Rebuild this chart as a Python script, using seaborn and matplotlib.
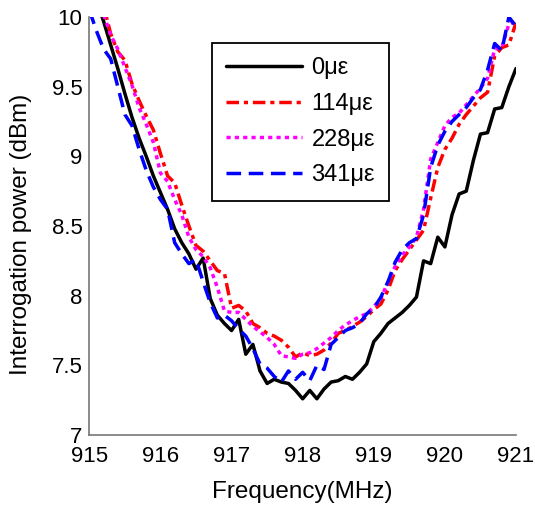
import numpy as np
import pandas as pd
import matplotlib
matplotlib.use("Agg")
import matplotlib.pyplot as plt
import seaborn as sns
from matplotlib.ticker import FuncFormatter

freq = [round(915.0 + 0.1 * i, 1) for i in range(61)]

strain_labels = ["0\u03bc\u03b5", "114\u03bc\u03b5", "228\u03bc\u03b5", "341\u03bc\u03b5"]

p0 = [10.35, 10.12, 9.97, 9.80, 9.63, 9.45, 9.28, 9.13, 9.00, 8.86,
      8.74, 8.62, 8.48, 8.38, 8.30, 8.19, 8.27, 7.98, 7.86, 7.80,
      7.75, 7.83, 7.58, 7.65, 7.46, 7.37, 7.40, 7.38, 7.37, 7.32,
      7.26, 7.32, 7.26, 7.33, 7.38, 7.39, 7.42, 7.40, 7.45, 7.51,
      7.67, 7.73, 7.80, 7.84, 7.88, 7.93, 7.99, 8.25, 8.23, 8.42,
      8.35, 8.58, 8.73, 8.75, 8.97, 9.16, 9.17, 9.34, 9.35, 9.50,
      9.63]
p114 = [10.55, 10.30, 10.08, 9.88, 9.75, 9.69, 9.52, 9.40, 9.29, 9.19,
        9.02, 8.86, 8.81, 8.65, 8.50, 8.36, 8.32, 8.25, 8.18, 8.16,
        7.91, 7.93, 7.89, 7.80, 7.77, 7.73, 7.71, 7.68, 7.63, 7.56,
        7.59, 7.57, 7.58, 7.61, 7.66, 7.73, 7.75, 7.78, 7.81, 7.85,
        7.90, 7.94, 8.04, 8.18, 8.26, 8.33, 8.40, 8.47, 8.70, 8.92,
        9.05, 9.13, 9.23, 9.30, 9.36, 9.42, 9.46, 9.72, 9.78, 9.80,
        9.96]
p228 = [10.45, 10.20, 10.02, 9.87, 9.77, 9.64, 9.51, 9.35, 9.23, 9.10,
        8.88, 8.82, 8.69, 8.58, 8.42, 8.33, 8.28, 8.20, 8.06, 7.89,
        7.88, 7.88, 7.83, 7.78, 7.74, 7.70, 7.65, 7.57, 7.56, 7.55,
        7.58, 7.59, 7.62, 7.66, 7.70, 7.75, 7.79, 7.82, 7.85, 7.87,
        7.92, 7.98, 8.10, 8.21, 8.29, 8.35, 8.42, 8.62, 8.98, 9.10,
        9.22, 9.28, 9.31, 9.37, 9.43, 9.49, 9.56, 9.77, 9.78, 9.95,
        9.97]
p341 = [10.05, 9.90, 9.77, 9.70, 9.50, 9.30, 9.22, 9.05, 8.90, 8.78,
        8.69, 8.62, 8.38, 8.30, 8.23, 8.26, 8.10, 7.95, 7.84, 7.86,
        7.82, 7.76, 7.71, 7.62, 7.51, 7.48, 7.42, 7.38, 7.46, 7.40,
        7.45, 7.39, 7.50, 7.47, 7.65, 7.70, 7.75, 7.77, 7.80, 7.87,
        7.91, 7.99, 8.10, 8.24, 8.33, 8.38, 8.41, 8.58, 8.92, 9.08,
        9.18, 9.25, 9.30, 9.35, 9.42, 9.48, 9.62, 9.81, 9.76, 10.00,
        9.93]

x_ticks = [915, 916, 917, 918, 919, 920, 921]
y_ticks = [7, 7.5, 8, 8.5, 9, 9.5, 10]

frames = []
for lab, vals in zip(strain_labels, [p0, p114, p228, p341]):
    frames.append(pd.DataFrame({"freq": freq, "power": vals, "strain": lab}))
df = pd.concat(frames, ignore_index=True)

sns.set_style("white")
plt.rcParams["font.family"] = ["Liberation Sans", "DejaVu Sans"]
plt.rcParams["text.color"] = "black"
plt.rcParams["axes.labelcolor"] = "black"

fig = plt.figure(figsize=(5.35, 5.11), dpi=100)
# axes: x 89.5..516 px, y 17..435 px
ax = fig.add_axes([0.167, 0.1487, 0.7975, 0.818])

palette = dict(zip(strain_labels, ["#000000", "#ff0000", "#ff00ff", "#0000ff"]))
dashes = dict(zip(strain_labels, ["", (3.6, 1.4, 1.2, 1.4), (1.2, 1.2), (4.2, 2.2)]))

sns.lineplot(data=df, x="freq", y="power", hue="strain", style="strain",
             palette=palette, dashes=dashes, linewidth=2.5, ax=ax,
             hue_order=strain_labels, style_order=strain_labels)

ax.set_xlim(915, 921)
ax.set_ylim(7, 10)
ax.set_xticks(x_ticks)
ax.set_yticks(y_ticks)
ax.yaxis.set_major_formatter(FuncFormatter(lambda v, p: "%g" % v))
ax.xaxis.set_major_formatter(FuncFormatter(lambda v, p: "%g" % v))
ax.tick_params(direction="in", length=3, width=1, colors="#555555",
               labelsize=16, labelcolor="black")
ax.tick_params(axis="x", pad=8)
ax.tick_params(axis="y", pad=5)

for s in ["top", "right"]:
    ax.spines[s].set_visible(False)
for s in ["left", "bottom"]:
    ax.spines[s].set_color("#777777")
    ax.spines[s].set_linewidth(1.2)

ax.set_xlabel("Frequency(MHz)", fontsize=17.5, labelpad=10, color="black")
ax.set_ylabel("Interrogation power (dBm)", fontsize=17.5, color="black")
ax.yaxis.set_label_coords(-0.135, 0.481)

handles, labels = ax.get_legend_handles_labels()
leg = ax.legend(handles, labels, loc="upper left", bbox_to_anchor=(0.287, 0.9376),
                borderaxespad=0, fontsize=17, frameon=True, fancybox=False,
                framealpha=1, edgecolor="black", handlelength=3.2,
                handletextpad=0.42, borderpad=0.6, labelspacing=0.58)
leg.get_frame().set_linewidth(1.3)
for t in leg.get_texts():
    t.set_color("black")
for h in leg.get_lines():
    h.set_linewidth(2.5)

fig.savefig("out.png", dpi=100)
